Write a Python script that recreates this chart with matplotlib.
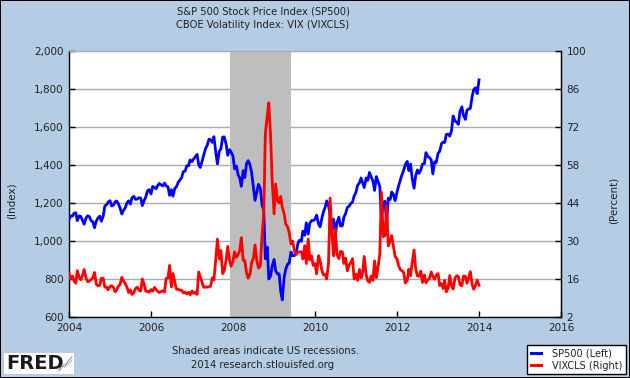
import matplotlib
matplotlib.use("Agg")
import matplotlib.pyplot as plt
import pandas as pd
from matplotlib.ticker import FuncFormatter, FixedLocator
from matplotlib.patches import Rectangle
from matplotlib.lines import Line2D

# ---------------- data (semi-monthly readings, 1st & 15th of each month) ----------------
sp500_2004 = [1112, 1132, 1131, 1146, 1149, 1107, 1132, 1129, 1107, 1088, 1121, 1133,
              1128, 1107, 1101, 1070, 1106, 1121, 1131, 1104, 1131, 1184, 1191, 1205]
sp500_2005 = [1212, 1184, 1190, 1206, 1210, 1197, 1172, 1142, 1162, 1173, 1202, 1211,
              1194, 1227, 1235, 1219, 1221, 1228, 1226, 1186, 1214, 1232, 1265, 1270]
sp500_2006 = [1248, 1287, 1282, 1275, 1291, 1303, 1295, 1290, 1305, 1290, 1285, 1240,
              1270, 1236, 1278, 1285, 1311, 1320, 1335, 1365, 1368, 1396, 1396, 1427]
sp500_2007 = [1418, 1431, 1445, 1456, 1403, 1387, 1420, 1452, 1486, 1501, 1536, 1533,
              1519, 1549, 1465, 1406, 1473, 1484, 1547, 1548, 1509, 1451, 1481, 1468]
sp500_2008 = [1447, 1380, 1395, 1349, 1331, 1288, 1370, 1334, 1409, 1423, 1400, 1360,
              1284, 1214, 1260, 1298, 1277, 1193, 1161, 907, 968, 800, 816, 868]
sp500_2009 = [903, 843, 826, 827, 735, 690, 811, 852, 878, 883, 942, 923,
              923, 932, 987, 1004, 998, 1052, 1030, 1096, 1036, 1094, 1108, 1107]
sp500_2010 = [1115, 1136, 1089, 1075, 1115, 1150, 1178, 1211, 1187, 1136, 1070, 1115,
              1027, 1096, 1125, 1079, 1080, 1125, 1146, 1176, 1184, 1197, 1206, 1236]
sp500_2011 = [1258, 1293, 1307, 1332, 1306, 1281, 1332, 1319, 1361, 1338, 1315, 1266,
              1339, 1316, 1287, 1120, 1204, 1209, 1099, 1225, 1218, 1258, 1244, 1212]
sp500_2012 = [1258, 1289, 1324, 1350, 1374, 1402, 1419, 1370, 1405, 1330, 1278, 1342,
              1374, 1356, 1375, 1405, 1407, 1465, 1445, 1440, 1427, 1353, 1416, 1413]
sp500_2013 = [1462, 1472, 1513, 1520, 1518, 1561, 1562, 1552, 1582, 1658, 1631, 1626,
              1614, 1682, 1706, 1661, 1640, 1688, 1695, 1698, 1762, 1798, 1806, 1775]
sp500_2014 = [1848]

vix_2004 = [18.2, 16.0, 17.1, 15.3, 14.5, 19.1, 16.6, 15.7, 17.3, 19.5, 16.3, 15.0,
            15.2, 15.8, 16.5, 18.4, 14.0, 13.5, 13.7, 16.3, 16.3, 13.0, 13.0, 12.0]
vix_2005 = [13.3, 13.5, 12.9, 11.3, 12.0, 13.3, 14.0, 16.6, 15.3, 14.3, 13.0, 11.0,
            12.0, 10.3, 11.0, 12.5, 13.0, 11.9, 11.5, 16.0, 14.0, 11.5, 11.4, 11.2]
vix_2006 = [12.1, 11.5, 12.9, 12.1, 11.5, 11.0, 11.4, 11.6, 11.2, 16.2, 16.4, 21.0,
            13.1, 18.0, 14.8, 12.2, 12.3, 11.8, 11.9, 10.9, 11.1, 10.5, 11.1, 10.2]
vix_2007 = [11.6, 10.7, 11.1, 10.3, 18.6, 16.8, 14.6, 12.9, 13.1, 13.0, 13.1, 13.3,
            16.4, 15.6, 23.5, 30.7, 23.4, 26.5, 18.0, 19.0, 23.2, 28.0, 22.9, 20.7]
vix_2008 = [22.5, 26.0, 24.0, 25.0, 26.5, 31.2, 22.9, 22.8, 18.2, 16.3, 17.8, 22.0,
            23.6, 28.5, 22.6, 20.0, 20.9, 31.7, 39.8, 69.3, 76.0, 80.9, 68.5, 52.4]
vix_2009 = [40.0, 51.0, 44.8, 44.0, 46.4, 42.4, 40.0, 36.2, 35.3, 33.1, 28.9, 30.0,
            26.4, 25.0, 25.9, 26.0, 26.0, 23.4, 28.3, 21.7, 30.7, 23.0, 24.5, 21.0]
vix_2010 = [21.7, 17.9, 24.6, 22.7, 19.5, 17.6, 17.6, 16.0, 22.0, 45.8, 32.1, 24.5,
            34.5, 25.0, 23.5, 26.2, 26.0, 21.7, 23.7, 19.0, 21.2, 22.0, 23.5, 16.0]
vix_2011 = [17.8, 15.5, 19.5, 16.4, 18.4, 24.3, 17.7, 15.3, 14.8, 17.1, 15.5, 22.7,
            16.5, 20.0, 25.3, 48.0, 31.6, 31.9, 43.0, 28.2, 30.0, 32.0, 27.8, 24.3]
vix_2012 = [23.4, 20.9, 19.4, 19.0, 18.4, 14.5, 15.5, 19.6, 17.2, 21.9, 26.7, 20.0,
            17.1, 17.1, 18.9, 14.7, 17.5, 14.6, 15.7, 16.1, 18.6, 17.0, 15.9, 17.4]
vix_2013 = [18.0, 13.6, 14.3, 12.5, 15.5, 11.3, 12.7, 17.3, 13.5, 12.3, 16.3, 17.2,
            16.9, 13.9, 13.5, 17.1, 17.0, 14.4, 16.6, 18.7, 13.8, 12.2, 13.7, 15.6]
vix_2014 = [13.7]

sp500 = (sp500_2004 + sp500_2005 + sp500_2006 + sp500_2007 + sp500_2008 + sp500_2009 +
         sp500_2010 + sp500_2011 + sp500_2012 + sp500_2013 + sp500_2014)
vix = (vix_2004 + vix_2005 + vix_2006 + vix_2007 + vix_2008 + vix_2009 +
       vix_2010 + vix_2011 + vix_2012 + vix_2013 + vix_2014)
dates = pd.date_range("2004-01-01", "2014-01-01", freq="SMS")

recession_start = "2007-12-01"
recession_end = "2009-06-01"

left_ticks = [600, 800, 1000, 1200, 1400, 1600, 1800, 2000]
right_ticks = [2, 16, 30, 44, 58, 72, 86, 100]
year_ticks = [2004, 2006, 2008, 2010, 2012, 2014, 2016]

# ---------------- figure ----------------
BG = "#B4CDE4"
W, H = 630, 378
fig = plt.figure(figsize=(6.3, 3.78), dpi=100, facecolor=BG)
fig.patch.set_edgecolor("black")
fig.patch.set_linewidth(1.2)

ax = fig.add_axes([69 / W, 1 - 317 / H, 492 / W, 266 / H])
ax.set_facecolor("white")
ax.set_xlim(pd.Timestamp("2004-01-01"), pd.Timestamp("2016-01-01"))
ax.set_ylim(600, 2000)
ax.axvspan(pd.Timestamp(recession_start), pd.Timestamp(recession_end),
           color="#BEBEBE", lw=0, zorder=1)
ax.yaxis.set_major_locator(FixedLocator(left_ticks))
ax.yaxis.set_major_formatter(FuncFormatter(lambda v, p: f"{v:,.0f}"))
ax.set_xticks([pd.Timestamp(f"{y}-01-01") for y in year_ticks])
ax.set_xticklabels([str(y) for y in year_ticks])
ax.grid(axis="y", color="#AAAAAA", lw=1, zorder=0)
ax.set_axisbelow(True)
l1, = ax.plot(dates, sp500, color="#0000FF", lw=2.0, zorder=3)

for s in ["left", "bottom", "right"]:
    ax.spines[s].set_color("black")
    ax.spines[s].set_linewidth(1)
ax.spines["top"].set_color("#AAAAAA")
ax.tick_params(axis="both", direction="in", length=4, width=1, color="black",
               labelcolor="#222222", labelsize=7.5, pad=4)

ax2 = ax.twinx()
ax2.set_ylim(2, 100)
ax2.yaxis.set_major_locator(FixedLocator(right_ticks))
l2, = ax2.plot(dates, vix, color="#FF0000", lw=2.0, zorder=3)
ax2.tick_params(axis="y", direction="in", length=4, width=1, color="black",
                labelcolor="#222222", labelsize=7.5, pad=4)
for s in ["left", "bottom", "top"]:
    ax2.spines[s].set_visible(False)
ax2.spines["right"].set_color("black")

# ---------------- texts ----------------
tc = "#222222"
fig.text(263 / W, 1 - 11.7 / H, "S&P 500 Stock Price Index (SP500)", ha="center",
         va="center", fontsize=7.2, color=tc)
fig.text(263 / W, 1 - 25 / H, "CBOE Volatility Index: VIX (VIXCLS)", ha="center",
         va="center", fontsize=7.2, color=tc)
fig.text(12 / W, 1 - 201 / H, "(Index)", rotation=90, ha="center", va="center",
         fontsize=7.5, color=tc)
fig.text(614 / W, 1 - 200 / H, "(Percent)", rotation=90, ha="center", va="center",
         fontsize=7.5, color=tc)
fig.text(266 / W, 1 - 351 / H, "Shaded areas indicate US recessions.", ha="center",
         va="center", fontsize=7.2, color=tc)
fig.text(263 / W, 1 - 364.5 / H, "2014 research.stlouisfed.org", ha="center",
         va="center", fontsize=7.2, color=tc)

# legend
leg = fig.legend(handles=[l1, l2], labels=["SP500 (Left)", "VIXCLS (Right)"],
                 loc="lower right", bbox_to_anchor=(626 / W, 1 - 374 / H),
                 fontsize=7, frameon=True, fancybox=False, framealpha=1,
                 edgecolor="black", handlelength=1.0, handletextpad=1.2,
                 borderpad=0.35, labelspacing=0.25, borderaxespad=0)
leg.get_frame().set_linewidth(1)
for t in leg.get_texts():
    t.set_color(tc)
for h in leg.legend_handles:
    h.set_linewidth(2.2)

# FRED logo
fig.add_artist(Rectangle((4 / W, 1 - 374 / H), 70 / W, 21 / H, transform=fig.transFigure,
                         facecolor="white", edgecolor="none"))
fig.text(6 / W, 1 - 363.5 / H, "FRED", ha="left", va="center", fontsize=14,
         fontweight="bold", color="#1a1a1a", family="DejaVu Sans")
for (xs, ys, c) in [([59, 62, 65, 68, 72], [370, 366, 367, 361, 357], "#8899AA"),
                    ([59, 61, 64, 67, 72], [371, 369, 364, 365, 360], "#AAB4BE")]:
    fig.add_artist(Line2D([x / W for x in xs], [1 - y / H for y in ys],
                          transform=fig.transFigure, color=c, lw=0.8))

fig.savefig("out.png", dpi=100, facecolor=BG, edgecolor="black")
